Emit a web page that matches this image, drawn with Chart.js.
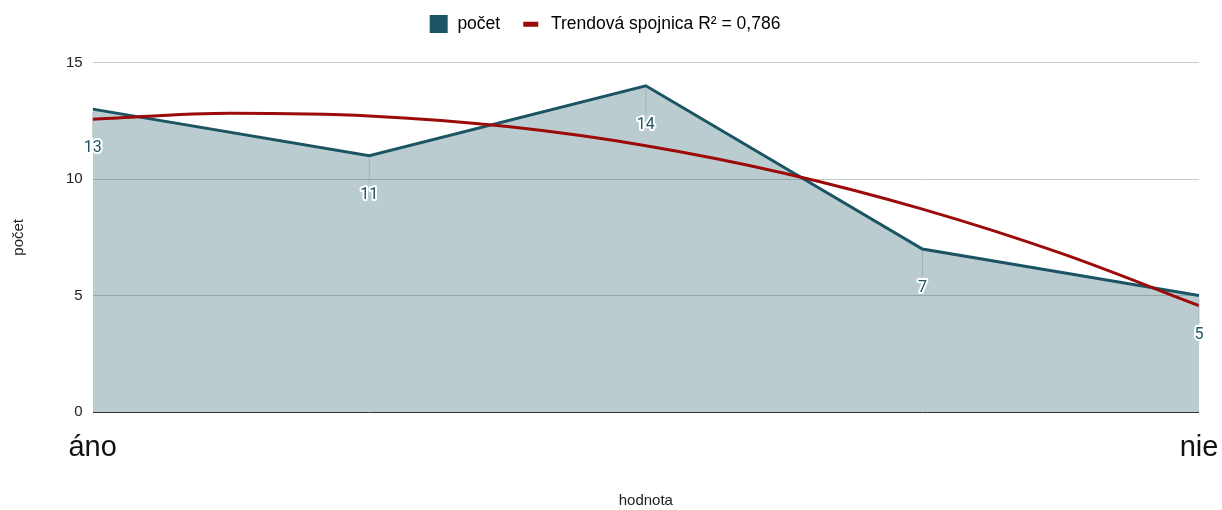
<!DOCTYPE html>
<html>
<head>
<meta charset="utf-8">
<script src="https://cdn.jsdelivr.net/npm/chart.js@4"></script>
<style>
  html, body { margin: 0; padding: 0; background: #fff; }
  #wrap { width: 1222px; height: 510px; }
</style>
</head>
<body>
<div id="wrap"><canvas id="chart" width="1222" height="510"></canvas></div>
<script>
const categories = ['áno', '', '', '', 'nie'];
const counts = [13, 11, 14, 7, 5];
// trendline every half step
const trendX = [0, 0.5, 1, 1.5, 2, 2.5, 3, 3.5, 4];
const trendValues = [12.57, 12.82, 12.71, 12.25, 11.43, 10.25, 8.71, 6.82, 4.57];
const yTicks = [0, 5, 10, 15];

const teal = '#1b5564';
const red = '#9c0a0a';
const font = "'Liberation Sans', Arial, sans-serif";
const labelFont = "Roboto, 'Liberation Sans', sans-serif";

// legend markers
function marker(kind, color) {
    const c = document.createElement('canvas');
    c.width = 20;
    c.height = 18;
    const g = c.getContext('2d');
    g.fillStyle = color;
    if (kind === 'rect') {
        g.fillRect(1, 0, 18, 18);
    } else {
        g.fillRect(1, 7, 15, 5);
    }
    return c;
}

const labelPlugin = {
    id: 'pointLabels',
    afterDatasetsDraw(chart) {
        const ctx = chart.ctx;
        const meta = chart.getDatasetMeta(0);
        ctx.save();
        ctx.font = '16px ' + labelFont;
        ctx.textAlign = 'center';
        ctx.textBaseline = 'middle';
        meta.data.forEach((pt, i) => {
            ctx.strokeStyle = 'rgba(150,160,165,0.6)';
            ctx.lineWidth = 1;
            ctx.beginPath();
            ctx.moveTo(pt.x, pt.y + 3);
            ctx.lineTo(pt.x, pt.y + 28);
            ctx.stroke();
            const ty = pt.y + 39;
            ctx.lineJoin = 'round';
            ctx.strokeStyle = '#fff';
            ctx.lineWidth = 4;
            ctx.strokeText(String(counts[i]), pt.x, ty);
            ctx.fillStyle = teal;
            ctx.fillText(String(counts[i]), pt.x, ty);
        });
        ctx.restore();
    }
};

// extra room under the legend
const legendSpace = {
    id: 'legendSpace',
    beforeInit(chart) {
        const fit = chart.legend.fit;
        chart.legend.fit = function () {
            fit.call(this);
            this.height += 20;
        };
    }
};

const ctx = document.getElementById('chart').getContext('2d');
new Chart(ctx, {
    type: 'line',
    data: {
        datasets: [{
            label: 'počet',
            data: counts.map((v, i) => ({ x: i, y: v })),
            borderColor: teal,
            backgroundColor: 'rgba(27,85,100,0.3)',
            borderWidth: 3,
            fill: 'origin',
            pointRadius: 0,
            tension: 0,
            order: 2
        }, {
            label: 'Trendová spojnica R² = 0,786',
            data: trendX.map((x, i) => ({ x: x, y: trendValues[i] })),
            borderColor: red,
            backgroundColor: red,
            borderWidth: 3,
            fill: false,
            pointRadius: 0,
            cubicInterpolationMode: 'monotone',
            order: 1
        }]
    },
    options: {
        responsive: false,
        animation: false,
        layout: { padding: { left: 10, right: 23, top: -7, bottom: 0 } },
        plugins: {
            legend: {
                position: 'top',
                labels: {
                    font: { family: font, size: 17.5 },
                    color: '#222',
                    padding: 22,
                    usePointStyle: true,
                    pointStyleWidth: 20,
                    boxHeight: 18,
                    generateLabels(chart) {
                        return chart.data.datasets.map((ds, i) => ({
                            text: ds.label,
                            fillStyle: ds.borderColor,
                            strokeStyle: ds.borderColor,
                            lineWidth: 0,
                            pointStyle: marker(i === 0 ? 'rect' : 'line', ds.borderColor),
                            datasetIndex: i
                        }));
                    }
                }
            },
            tooltip: { enabled: false }
        },
        scales: {
            x: {
                type: 'linear',
                min: 0,
                max: 4,
                grid: { display: false },
                border: { display: false },
                afterFit(scale) {
                    scale.paddingRight = 0;
                },
                ticks: {
                    stepSize: 1,
                    autoSkip: false,
                    maxRotation: 0,
                    color: '#111',
                    font: { family: font, size: 29 },
                    padding: 10,
                    callback: (v) => categories[v] ?? ''
                },
                title: {
                    display: true,
                    text: 'hodnota',
                    color: '#222',
                    font: { family: font, size: 15 },
                    padding: { top: 17, bottom: 0 }
                }
            },
            y: {
                min: 0,
                max: 15,
                afterBuildTicks(axis) { axis.ticks = yTicks.map(v => ({ value: v })); },
                grid: {
                    color: (c) => c.tick.value === 0 ? '#333' : '#c9c9c9',
                    lineWidth: 1,
                    drawTicks: false
                },
                border: { display: false },
                ticks: {
                    color: '#222',
                    font: { family: font, size: 15 },
                    padding: 10
                },
                title: {
                    display: true,
                    text: 'počet',
                    color: '#222',
                    font: { family: font, size: 15 },
                    padding: { top: 0, bottom: 28 }
                }
            }
        }
    },
    plugins: [labelPlugin, legendSpace]
});
</script>
</body>
</html>
